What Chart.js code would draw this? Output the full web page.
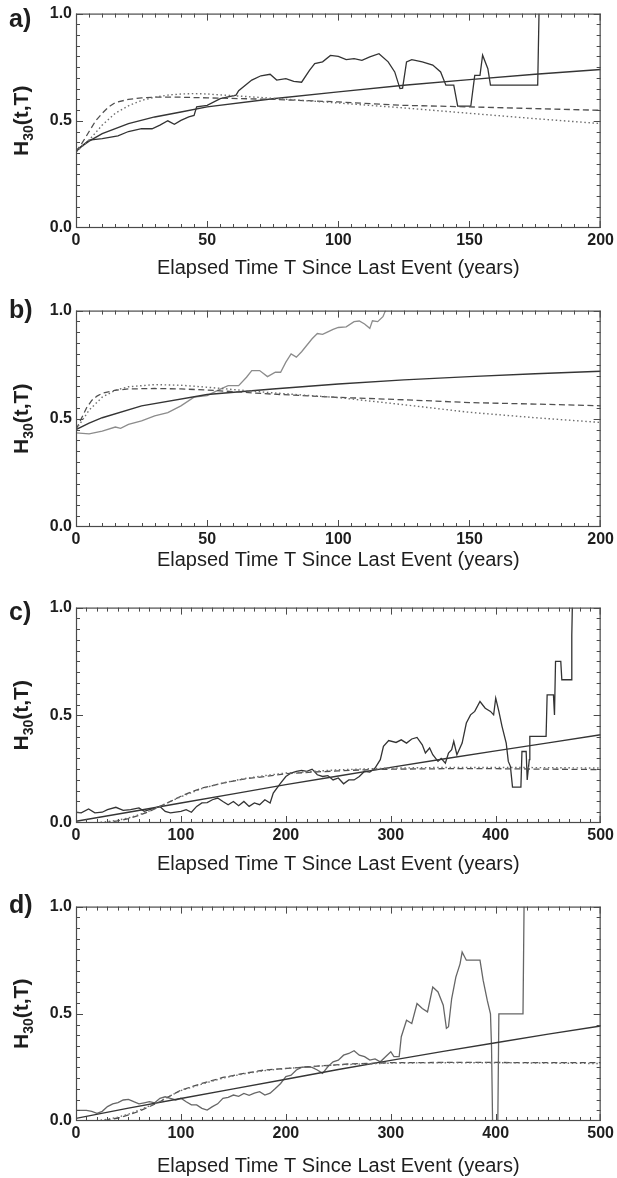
<!DOCTYPE html>
<html><head><meta charset="utf-8">
<script src="https://cdn.jsdelivr.net/npm/chart.js@4.4.1/dist/chart.umd.min.js"></script>
<style>
html,body{margin:0;padding:0;background:#fff;width:617px;height:1178px;overflow:hidden;position:relative;}
canvas{position:absolute;left:0;}
</style></head><body>
<canvas id="pa"></canvas><canvas id="pb"></canvas><canvas id="pc"></canvas><canvas id="pd"></canvas>
<script>
// ---------- DATA ----------
const xTitle = 'Elapsed Time T Since Last Event (years)';
const panelLabels = ['a)', 'b)', 'c)', 'd)'];
const yTickLabels = ['0.0', '0.5', '1.0'];

// panel a
const aStepT = [0,2,5,10,16,20,25,29,32,35,37.5,40,43,45,46,50,55,61,62,67,70.5,74,76.5,80,83,86,89,91,94,97,100,103,106,109,112,115.5,119,121.5,123.5,124.5,126,128,132,136,139,141,144,145.5,150.5,152,154,155,157,158,176,176.5];
const aStepH = [0.355,0.38,0.41,0.417,0.43,0.45,0.463,0.463,0.48,0.50,0.484,0.502,0.518,0.525,0.565,0.572,0.603,0.62,0.64,0.69,0.71,0.717,0.69,0.697,0.684,0.68,0.735,0.767,0.775,0.805,0.80,0.785,0.79,0.782,0.798,0.813,0.775,0.728,0.65,0.652,0.775,0.785,0.775,0.76,0.728,0.666,0.666,0.568,0.568,0.712,0.712,0.806,0.743,0.666,0.666,1.0];
const aSmoothT = [0,5,10,20,30,40,50,75,100,125,150,175,200];
const aSmoothH = [0.362,0.405,0.44,0.487,0.518,0.541,0.565,0.603,0.635,0.666,0.692,0.717,0.739];
const aDashT = [0,2,5,7.5,10,12.5,15,20,25,30,40,50,75,100,125,150,175,200];
const aDashH = [0.355,0.39,0.45,0.50,0.535,0.565,0.585,0.60,0.607,0.61,0.61,0.607,0.60,0.588,0.572,0.565,0.557,0.549];
const aDotT = [0,5,10,15,20,25,30,35,40,45,50,75,100,125,150,175,200];
const aDotH = [0.355,0.41,0.48,0.535,0.57,0.595,0.61,0.62,0.625,0.627,0.625,0.605,0.583,0.56,0.535,0.51,0.487];

// panel b
const bStepT = [0,5,10,15,17,20,25,30,35,40,45,50,55,58,62,65,67,70,73,76,78,80,82,84,86,88,90,92,94,96,98,100,103,106,108,110,112,113,115,117,118];
const bStepH = [0.435,0.43,0.443,0.462,0.456,0.474,0.49,0.513,0.529,0.56,0.60,0.607,0.637,0.653,0.653,0.692,0.723,0.723,0.695,0.715,0.715,0.762,0.80,0.785,0.81,0.84,0.87,0.894,0.89,0.902,0.913,0.922,0.925,0.949,0.952,0.938,0.918,0.953,0.949,0.972,1.0];
const bSmoothT = [0,5,10,25,50,75,100,125,150,175,200];
const bSmoothH = [0.45,0.48,0.505,0.56,0.612,0.638,0.661,0.68,0.695,0.708,0.72];
const bDashT = [0,2,4,6,8,10,15,20,30,40,50,75,100,125,150,175,200];
const bDashH = [0.45,0.50,0.55,0.585,0.605,0.618,0.632,0.638,0.64,0.638,0.633,0.614,0.599,0.588,0.575,0.568,0.56];
const bDotT = [0,5,10,15,20,30,40,50,60,75,100,125,150,175,200];
const bDotH = [0.45,0.54,0.60,0.632,0.648,0.658,0.655,0.646,0.635,0.62,0.598,0.565,0.53,0.505,0.483];

// panel c
const cStepT = [0,5,12,18,25,30,38,45,52,60,65,70,80,85,90,100,105,110,115,120,125,130,135,140,145,150,155,160,165,170,175,180,185,188,195,200,205,210,215,220,225,230,235,240,245,250,255,260,265,270,275,280,285,290,293,298,305,310,315,320,325,330,333,337,340,345,348,352,355,358,360,363,368,372,376,380,385,390,395,398,400,403,406,410,412,414,416,424,425,429,430,432,432.5,448,449,455,456,457,462,463,472,472.5,473];
const cStepH = [0.05,0.047,0.065,0.047,0.05,0.062,0.073,0.059,0.062,0.07,0.054,0.062,0.077,0.054,0.047,0.054,0.062,0.05,0.077,0.093,0.095,0.108,0.116,0.10,0.085,0.10,0.08,0.10,0.077,0.093,0.085,0.108,0.093,0.139,0.185,0.216,0.232,0.24,0.244,0.24,0.25,0.224,0.216,0.22,0.20,0.209,0.182,0.20,0.20,0.216,0.24,0.236,0.255,0.294,0.356,0.383,0.374,0.386,0.371,0.39,0.397,0.363,0.325,0.348,0.317,0.286,0.30,0.278,0.325,0.34,0.379,0.317,0.371,0.464,0.502,0.518,0.564,0.533,0.518,0.502,0.58,0.518,0.449,0.371,0.286,0.263,0.167,0.167,0.332,0.332,0.20,0.294,0.402,0.402,0.595,0.595,0.502,0.75,0.75,0.665,0.665,0.87,1.0];
const cSmoothT = [0,50,100,150,200,250,300,350,400,450,500];
const cSmoothH = [0.008,0.05,0.093,0.135,0.178,0.218,0.258,0.297,0.335,0.372,0.41];
const cDashT = [0,20,30,40,50,60,70,80,90,100,110,120,140,160,180,200,225,250,275,300,350,400,450,500];
const cDashH = [0,0,0.003,0.01,0.02,0.035,0.054,0.077,0.10,0.124,0.145,0.162,0.185,0.204,0.216,0.229,0.236,0.242,0.247,0.25,0.252,0.252,0.25,0.248];
const cDotT = [0,20,30,40,50,60,70,80,90,100,120,140,160,180,200,250,300,350,400,450,500];
const cDotH = [0,0.002,0.006,0.013,0.024,0.038,0.056,0.078,0.10,0.122,0.16,0.186,0.206,0.22,0.232,0.247,0.255,0.258,0.258,0.257,0.255];

// panel d
const dStepT = [0,10,15,20,25,30,35,40,45,50,55,60,65,70,75,80,85,90,95,100,105,110,115,120,125,130,135,140,145,150,155,160,165,170,175,180,185,190,195,200,205,210,215,220,225,230,235,240,245,250,255,260,265,270,275,280,285,290,295,300,303,308,310,315,320,325,330,335,340,345,350,353,355,358,362,366,368,372,378,385,388,392,395,396,397,402,403,426,427];
const dStepH = [0.05,0.05,0.045,0.036,0.045,0.067,0.08,0.086,0.098,0.101,0.09,0.08,0.085,0.09,0.085,0.106,0.113,0.105,0.098,0.106,0.09,0.075,0.075,0.059,0.051,0.067,0.08,0.106,0.11,0.121,0.115,0.129,0.12,0.13,0.137,0.121,0.13,0.152,0.175,0.207,0.214,0.238,0.25,0.253,0.25,0.238,0.222,0.253,0.276,0.284,0.307,0.315,0.328,0.307,0.30,0.284,0.29,0.276,0.30,0.323,0.30,0.30,0.393,0.47,0.455,0.548,0.525,0.509,0.625,0.602,0.54,0.432,0.44,0.57,0.671,0.733,0.788,0.75,0.75,0.75,0.657,0.561,0.50,0.346,0.0,0.0,0.5,0.5,1.0];
const dSmoothT = [0,50,100,150,200,250,300,350,400,450,500];
const dSmoothH = [0.012,0.06,0.105,0.15,0.195,0.24,0.283,0.325,0.365,0.405,0.443];
const dDashT = [0,20,30,40,50,60,70,80,90,100,120,140,160,180,200,230,260,300,350,400,450,500];
const dDashH = [0,0,0.005,0.014,0.028,0.045,0.067,0.09,0.118,0.144,0.175,0.203,0.222,0.238,0.245,0.256,0.266,0.272,0.273,0.273,0.272,0.272];
const dDotT = [0,20,30,40,50,60,70,80,90,100,120,140,160,180,200,250,300,350,400,450,500];
const dDotH = [0,0.002,0.008,0.018,0.032,0.05,0.07,0.092,0.118,0.142,0.172,0.2,0.22,0.235,0.245,0.262,0.27,0.272,0.272,0.27,0.268];

// ---------- RENDER ----------
const FONT = '"Liberation Sans", Arial, Helvetica, sans-serif';
const TEXT = '#1e1e1e';
const pts = (T, H) => T.map((t, i) => ({x: t, y: H[i]}));

const decoPlugin = {
  id: 'deco',
  afterDraw(chart, args, o) {
    const ctx = chart.ctx;
    const {left, right, top, bottom} = chart.chartArea;
    const xs = chart.scales.x, ys = chart.scales.y;
    ctx.save();
    // frame
    ctx.strokeStyle = '#4a4a4a';
    ctx.lineWidth = 1.2;
    ctx.strokeRect(left + 0.5, top + 0.5, right - left - 1, bottom - top - 1);
    // inward ticks on all four sides
    ctx.lineWidth = 1;
    ctx.beginPath();
    for (let v = xs.min; v <= xs.max + 1e-9; v += o.xMinor) {
      let px = Math.round(xs.getPixelForValue(v)) + 0.5;
      px = Math.min(Math.max(px, left + 0.5), right - 0.5);
      const major = Math.abs(v / o.xMajor - Math.round(v / o.xMajor)) < 1e-6;
      const len = major ? 7 : 4;
      ctx.moveTo(px, bottom); ctx.lineTo(px, bottom - len);
      ctx.moveTo(px, top); ctx.lineTo(px, top + len);
    }
    for (let v = 0; v <= 1 + 1e-9; v += 0.05) {
      let py = Math.round(ys.getPixelForValue(v)) + 0.5;
      py = Math.min(Math.max(py, top + 0.5), bottom - 0.5);
      const major = Math.abs(v / 0.5 - Math.round(v / 0.5)) < 1e-6;
      const len = major ? 7 : 4;
      ctx.moveTo(left, py); ctx.lineTo(left + len, py);
      ctx.moveTo(right, py); ctx.lineTo(right - len, py);
    }
    ctx.stroke();
    // panel label
    ctx.fillStyle = TEXT;
    ctx.font = 'bold 25px ' + FONT;
    ctx.textAlign = 'left';
    ctx.textBaseline = 'alphabetic';
    ctx.fillText(o.label, 9, o.labelY - chart.canvas.offsetTop);
    // rotated y title  H30(t,T)
    const cy = (top + bottom) / 2;
    ctx.translate(o.yTitleX, cy);
    ctx.rotate(-Math.PI / 2);
    const big = 'bold 21px ' + FONT, small = 'bold 14px ' + FONT;
    ctx.font = big; const wH = ctx.measureText('H').width;
    const wR = ctx.measureText('(t,T)').width;
    ctx.font = small; const wS = ctx.measureText('30').width;
    let x0 = -(wH + wS + wR) / 2;
    ctx.font = big; ctx.fillText('H', x0, 0); x0 += wH;
    ctx.font = small; ctx.fillText('30', x0, 5); x0 += wS;
    ctx.font = big; ctx.fillText('(t,T)', x0, 0);
    ctx.restore();
  }
};

function makePanel(id, cfg) {
  const padTop = 13, below = 62;
  const plotH = cfg.bottom - cfg.top;
  const H = plotH + padTop + below;
  const cv = document.getElementById(id);
  cv.style.top = (cfg.top - padTop) + 'px';
  cv.width = 617; cv.height = H;
  cv.style.width = '617px'; cv.style.height = H + 'px';
  const tickFont = {family: FONT, size: 16, weight: 'bold'};
  const ds = (T, Hh, color, dash, w) => ({
    data: pts(T, Hh), showLine: true, borderColor: color, borderWidth: w,
    borderDash: dash, pointRadius: 0, fill: false, tension: 0
  });
  new Chart(cv, {
    type: 'scatter',
    data: {datasets: [
      ds(cfg.dotT, cfg.dotH, '#6e6e6e', [1.5, 2.6], 1.4),
      ds(cfg.dashT, cfg.dashH, '#505050', [6, 3.5], 1.3),
      ds(cfg.smoothT, cfg.smoothH, '#353535', [], 1.4),
      ds(cfg.stepT, cfg.stepH, cfg.stepColor, [], 1.3)
    ]},
    options: {
      responsive: false, animation: false, devicePixelRatio: 1,
      layout: {padding: {left: 0, right: 16, top: padTop, bottom: 0}},
      plugins: {
        legend: {display: false}, tooltip: {enabled: false},
        deco: {label: cfg.label, labelY: cfg.labelY, xMinor: cfg.xMinor, xMajor: cfg.xMajor, yTitleX: 28}
      },
      scales: {
        x: {
          type: 'linear', min: 0, max: cfg.xMax,
          grid: {display: false, drawTicks: false}, border: {display: false},
          ticks: {stepSize: cfg.xMajor, font: tickFont, color: TEXT, padding: 3, maxRotation: 0, autoSkip: false},
          title: {display: true, text: xTitle, color: TEXT, font: {family: FONT, size: 20},
                  padding: {top: 0, bottom: below - cfg.titleOff - 12}},
          afterFit(s) { s.height = below; }
        },
        y: {
          min: 0, max: 1,
          grid: {display: false, drawTicks: false}, border: {display: false},
          ticks: {stepSize: 0.5, font: tickFont, color: TEXT, padding: 4,
                  callback: (v) => yTickLabels[Math.round(v * 2)]},
          afterFit(s) { s.width = 76; }
        }
      }
    },
    plugins: [decoPlugin]
  });
}

makePanel('pa', {top: 13, bottom: 228, xMax: 200, xMajor: 50, xMinor: 5, label: panelLabels[0], labelY: 27, titleOff: 40,
  stepT: aStepT, stepH: aStepH, stepColor: '#333', smoothT: aSmoothT, smoothH: aSmoothH, dashT: aDashT, dashH: aDashH, dotT: aDotT, dotH: aDotH});
makePanel('pb', {top: 310, bottom: 527, xMax: 200, xMajor: 50, xMinor: 5, label: panelLabels[1], labelY: 318, titleOff: 33,
  stepT: bStepT, stepH: bStepH, stepColor: '#8c8c8c', smoothT: bSmoothT, smoothH: bSmoothH, dashT: bDashT, dashH: bDashH, dotT: bDotT, dotH: bDotH});
makePanel('pc', {top: 607, bottom: 823, xMax: 500, xMajor: 100, xMinor: 10, label: panelLabels[2], labelY: 620, titleOff: 41,
  stepT: cStepT, stepH: cStepH, stepColor: '#333', smoothT: cSmoothT, smoothH: cSmoothH, dashT: cDashT, dashH: cDashH, dotT: cDotT, dotH: cDotH});
makePanel('pd', {top: 906, bottom: 1121, xMax: 500, xMajor: 100, xMinor: 10, label: panelLabels[3], labelY: 913, titleOff: 45,
  stepT: dStepT, stepH: dStepH, stepColor: '#666', smoothT: dSmoothT, smoothH: dSmoothH, dashT: dDashT, dashH: dDashH, dotT: dDotT, dotH: dDotH});
</script>
</body></html>
